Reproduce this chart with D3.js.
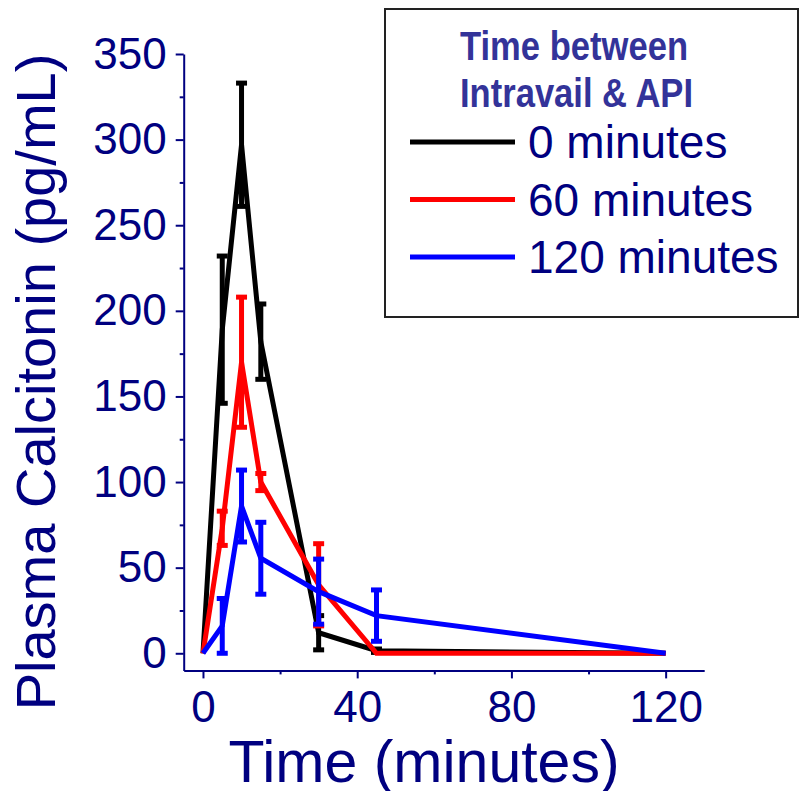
<!DOCTYPE html>
<html>
<head>
<meta charset="utf-8">
<script src="https://cdn.jsdelivr.net/npm/d3@7"></script>
<style>
  html, body { margin: 0; padding: 0; background: #fff; }
  svg { display: block; font-family: "Liberation Sans", Arial, sans-serif; }
</style>
</head>
<body>
<div id="chart"></div>
<script>
// 数据：时间点（分钟）
const times = [0, 5, 10, 15, 30, 45, 120];

// 各组均值与误差
const series0Mean = [0, 189, 297, 182, 12, 1.5, 0];
const series0Err  = [0, 43, 36, 22, 10, 1, 0];
const series60Mean = [0, 73, 170, 100, 40, 0, 0];
const series60Err  = [0, 10, 38, 5, 24, 0, 0];
const series120Mean = [0, 16, 86, 55.5, 36, 22, 0];
const series120Err  = [0, 16, 21, 21, 19, 15, 0];

const seriesNames = ['0 minutes', '60 minutes', '120 minutes'];
const seriesColors = ['#000000', '#ff0000', '#0000ff'];

const xTicks = [0, 40, 80, 120];
const xMinor = [20, 60, 100];
const yTicks = [0, 50, 100, 150, 200, 250, 300, 350];
const yMinor = [25, 75, 125, 175, 225, 275, 325];

const legendTitle = ['Time between', 'Intravail & API'];
const xTitle = 'Time (minutes)';
const yTitle = 'Plasma Calcitonin (pg/mL)';

function renderChart() {
    const width = 800, height = 791;
    const axisColor = '#000080';

    const svg = d3.select('#chart')
        .append('svg')
        .attr('width', width)
        .attr('height', height);

    const x = d3.scaleLinear().domain([-5, 130]).range([183.7, 704.2]);
    const y = d3.scaleLinear().domain([-10, 350]).range([670.4, 54]);

    // 次刻度
    const minorX = svg.append('g')
        .attr('transform', `translate(0,${y(-10)})`)
        .call(d3.axisBottom(x).tickValues(xMinor).tickSize(4).tickFormat(''));
    const minorY = svg.append('g')
        .attr('transform', `translate(${x(-5)},0)`)
        .call(d3.axisLeft(y).tickValues(yMinor).tickSize(4).tickFormat(''));

    // 主刻度
    const xAxis = svg.append('g')
        .attr('transform', `translate(0,${y(-10)})`)
        .call(d3.axisBottom(x).tickValues(xTicks).tickSize(8).tickSizeOuter(0).tickPadding(12));
    const yAxis = svg.append('g')
        .attr('transform', `translate(${x(-5)},0)`)
        .call(d3.axisLeft(y).tickValues(yTicks).tickSize(8).tickSizeOuter(0).tickPadding(9));

    [minorX, minorY].forEach(g => g.select('.domain').remove());
    [minorX, minorY, xAxis, yAxis].forEach(g => {
        g.selectAll('line').attr('stroke', axisColor).attr('stroke-width', 2);
        g.selectAll('.domain').attr('stroke', axisColor).attr('stroke-width', 2);
        g.selectAll('text')
            .attr('fill', axisColor)
            .style('font-size', '44px')
            .style('font-family', '"Liberation Sans", Arial, sans-serif');
    });

    // 轴标题
    svg.append('text')
        .attr('x', 424)
        .attr('y', 782)
        .attr('text-anchor', 'middle')
        .attr('fill', axisColor)
        .style('font-size', '59px')
        .text(xTitle);

    svg.append('text')
        .attr('transform', `translate(55,${382}) rotate(-90)`)
        .attr('text-anchor', 'middle')
        .attr('fill', axisColor)
        .style('font-size', '56px')
        .text(yTitle);

    // 数据系列
    const allSeries = [
        { mean: series0Mean, err: series0Err },
        { mean: series60Mean, err: series60Err },
        { mean: series120Mean, err: series120Err }
    ];

    const line = d3.line()
        .x(d => x(d.t))
        .y(d => y(d.v));

    allSeries.forEach((s, i) => {
        const pts = times.map((t, j) => ({ t: t, v: s.mean[j], e: s.err[j] }));
        const g = svg.append('g');

        g.append('path')
            .datum(pts)
            .attr('d', line)
            .attr('fill', 'none')
            .attr('stroke', seriesColors[i])
            .attr('stroke-width', 5)
            .attr('stroke-linejoin', 'miter');

        const bars = g.selectAll('g.err')
            .data(pts.filter(d => d.e > 0))
            .join('g')
            .attr('class', 'err')
            .attr('stroke', seriesColors[i]);

        bars.append('line')
            .attr('x1', d => x(d.t)).attr('x2', d => x(d.t))
            .attr('y1', d => y(d.v + d.e)).attr('y2', d => y(d.v - d.e))
            .attr('stroke-width', 5);
        bars.append('line')
            .attr('x1', d => x(d.t) - 5.5).attr('x2', d => x(d.t) + 5.5)
            .attr('y1', d => y(d.v + d.e)).attr('y2', d => y(d.v + d.e))
            .attr('stroke-width', 5);
        bars.append('line')
            .attr('x1', d => x(d.t) - 5.5).attr('x2', d => x(d.t) + 5.5)
            .attr('y1', d => y(d.v - d.e)).attr('y2', d => y(d.v - d.e))
            .attr('stroke-width', 5);
    });

    // 图例
    const legend = svg.append('g');
    legend.append('rect')
        .attr('x', 385).attr('y', 9)
        .attr('width', 413).attr('height', 308)
        .attr('fill', '#fff')
        .attr('stroke', '#222')
        .attr('stroke-width', 2);

    const titleWidths = [228, 233];
    legendTitle.forEach((t, i) => {
        legend.append('text')
            .attr('x', 460)
            .attr('y', 60 + i * 47)
            .attr('fill', '#333399')
            .attr('textLength', titleWidths[i])
            .attr('lengthAdjust', 'spacingAndGlyphs')
            .style('font-family', '"Liberation Sans Narrow", "Liberation Sans", Arial, sans-serif')
            .style('font-weight', 'bold')
            .style('font-size', '41px')
            .text(t);
    });

    seriesNames.forEach((name, i) => {
        const ly = 142 + i * 57.5;
        legend.append('line')
            .attr('x1', 410).attr('x2', 515)
            .attr('y1', ly).attr('y2', ly)
            .attr('stroke', seriesColors[i])
            .attr('stroke-width', 5);
        legend.append('text')
            .attr('x', 528)
            .attr('y', ly + 16)
            .attr('fill', axisColor)
            .style('font-size', '46px')
            .text(name);
    });
}

renderChart();
</script>
</body>
</html>
